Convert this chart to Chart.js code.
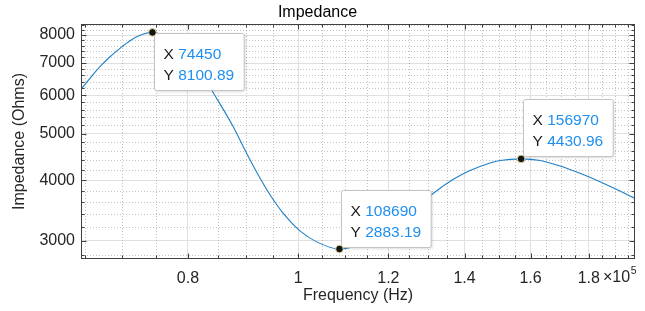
<!DOCTYPE html>
<html>
<head>
<meta charset="utf-8">
<script src="https://cdn.jsdelivr.net/npm/chart.js@4.4.1/dist/chart.umd.min.js"></script>
<style>
  html, body { margin: 0; padding: 0; background: #fff; }
</style>
</head>
<body>
<canvas id="impedanceChart" width="645" height="311"></canvas>
<script>
// values (Hz, Ohms)
const freq = [64430, 65610, 66950, 68320, 69720, 71150, 72600, 74450, 76370, 78390, 80320, 82300, 84100,
  87670, 89770, 91940, 94440, 97020, 100350, 103800, 108690, 112640, 116770, 121620, 126650, 131430,
  136860, 141560, 147410, 150420, 156970, 163110, 169820, 176840, 184140, 191750, 197650];
const impedance = [6175, 6508, 6878, 7214, 7509, 7785, 7989, 8100.89, 7961, 7664, 7237, 6643, 6106,
  5167, 4624, 4159, 3735, 3418, 3144, 2983, 2883.19, 2925, 3019, 3219, 3491, 3762,
  4021, 4192, 4347, 4399, 4430.96, 4398, 4285, 4138, 3976, 3803, 3670];

// data tips
const tipFreq = [74450, 108690, 156970];
const tipImp = [8100.89, 2883.19, 4430.96];
const tipSide = ['below', 'above', 'above'];

// axes
const xMin = 64430, xMax = 197650;
const yMin = 2749, yMax = 8433;
const xMajor = [80000, 100000, 120000, 140000, 160000, 180000];
const xMinor = [65000, 70000, 75000, 85000, 90000, 95000, 105000, 110000, 115000, 125000, 130000,
  135000, 145000, 150000, 155000, 165000, 170000, 175000, 185000, 190000, 195000];
const yMajor = [3000, 4000, 5000, 6000, 7000, 8000];
const yMinor = [2800, 3200, 3400, 3600, 3800, 4200, 4400, 4600, 4800, 5200, 5400, 5600, 5800,
  6200, 6400, 6600, 6800, 7200, 7400, 7600, 7800, 8200, 8400];

const FONT = '"Liberation Sans", Arial, Helvetica, sans-serif';
const axisColor = '#404040';

const matlabAxes = {
  id: 'matlabAxes',
  beforeDatasetsDraw(chart) {
    const { ctx, chartArea: a, scales: { x, y } } = chart;
    ctx.save();
    ctx.strokeStyle = 'rgba(60,60,60,0.3)';
    ctx.lineWidth = 1;
    ctx.setLineDash([1, 2]);
    ctx.beginPath();
    xMinor.forEach(v => {
      const px = Math.round(x.getPixelForValue(v)) + 0.5;
      ctx.moveTo(px, a.top); ctx.lineTo(px, a.bottom);
    });
    yMinor.forEach(v => {
      const py = Math.round(y.getPixelForValue(v)) + 0.5;
      if (py < a.top || py > a.bottom) return;
      ctx.moveTo(a.left, py); ctx.lineTo(a.right, py);
    });
    ctx.stroke();
    ctx.restore();
  },
  afterDatasetDraw(chart, args) {
    if (args.index !== 1) return;
    const { ctx, scales: { x, y } } = chart;
    ctx.save();
    ctx.font = '15.5px ' + FONT;
    ctx.textBaseline = 'alphabetic';
    tipFreq.forEach((f, i) => {
      const px = x.getPixelForValue(f);
      const py = y.getPixelForValue(tipImp[i]);
      const xs = String(f), ys = tipImp[i].toFixed(2);
      const w = Math.max(ctx.measureText('X ' + xs).width, ctx.measureText('Y ' + ys).width) + 19;
      const h = 57;
      const bx = Math.round(px + 2) + 0.5;
      const by = Math.round(tipSide[i] === 'below' ? py + 0.5 : py - 2.5 - h) + 0.5;
      ctx.save();
      ctx.shadowColor = 'rgba(0,0,0,0.18)';
      ctx.shadowBlur = 3;
      ctx.shadowOffsetX = 1;
      ctx.shadowOffsetY = 1;
      ctx.beginPath();
      ctx.roundRect(bx, by, w, h, 2);
      ctx.fillStyle = '#fff';
      ctx.fill();
      ctx.restore();
      ctx.strokeStyle = '#c4c4c4';
      ctx.lineWidth = 1;
      ctx.beginPath();
      ctx.roundRect(bx, by, w, h, 2);
      ctx.stroke();
      const tx = bx + 9;
      ctx.fillStyle = '#1a1a1a';
      ctx.fillText('X', tx, by + 25.5);
      ctx.fillText('Y', tx, by + 46.5);
      ctx.fillStyle = '#1e8ff0';
      ctx.fillText(xs, tx + ctx.measureText('X ').width, by + 25.5);
      ctx.fillText(ys, tx + ctx.measureText('Y ').width, by + 46.5);
    });
    ctx.restore();
  },
  afterDraw(chart) {
    const { ctx, chartArea: a, scales: { x, y } } = chart;
    const L = Math.round(a.left) + 0.5, R = Math.round(a.right) - 0.5;
    const T = Math.round(a.top) + 0.5, B = Math.round(a.bottom) - 0.5;
    ctx.save();
    ctx.strokeStyle = axisColor;
    ctx.lineWidth = 1;
    ctx.beginPath();
    const xt = xMajor.map(v => [v, 5]).concat(xMinor.map(v => [v, 3]));
    xt.forEach(([v, len]) => {
      const px = Math.round(x.getPixelForValue(v)) + 0.5;
      ctx.moveTo(px, B); ctx.lineTo(px, B - len);
      ctx.moveTo(px, T); ctx.lineTo(px, T + len);
    });
    const yt = yMajor.map(v => [v, 5]).concat(yMinor.map(v => [v, 3]));
    yt.forEach(([v, len]) => {
      const py = Math.round(y.getPixelForValue(v)) + 0.5;
      if (py < a.top || py > a.bottom) return;
      ctx.moveTo(L, py); ctx.lineTo(L + len, py);
      ctx.moveTo(R, py); ctx.lineTo(R - len, py);
    });
    ctx.stroke();
    ctx.strokeRect(L, T, R - L, B - T);

    // exponent of the x axis
    ctx.fillStyle = '#262626';
    ctx.textBaseline = 'alphabetic';
    ctx.font = '16px ' + FONT;
    const ex = a.right - 32;
    ctx.fillText('\u00d710', ex, a.bottom + 22.5);
    const w10 = ctx.measureText('\u00d710').width;
    ctx.font = '10.5px ' + FONT;
    ctx.fillText('5', ex + w10 + 0.5, a.bottom + 14.5);
    ctx.restore();
  }
};

const tickFont = { family: FONT, size: 16 };
const titleFont = { family: FONT, size: 16, weight: 'normal' };

new Chart(document.getElementById('impedanceChart'), {
  type: 'line',
  data: {
    datasets: [{
      label: 'Data tips',
      data: tipFreq.map((f, i) => ({ x: f, y: tipImp[i] })),
      showLine: false,
      pointRadius: 3.8,
      pointBackgroundColor: '#151515',
      pointBorderColor: 'rgba(235,225,160,0.9)',
      pointBorderWidth: 1,
      clip: false
    }, {
      label: 'Impedance',
      data: freq.map((f, i) => ({ x: f, y: impedance[i] })),
      borderColor: '#2080c8',
      borderWidth: 1.1,
      pointRadius: 0,
      fill: false,
      cubicInterpolationMode: 'monotone'
    }]
  },
  options: {
    responsive: false,
    animation: false,
    events: [],
    layout: { padding: { left: 0, right: 10, top: 0, bottom: 0 } },
    plugins: {
      legend: { display: false },
      tooltip: { enabled: false },
      title: {
        display: true,
        text: 'Impedance',
        color: '#000',
        font: titleFont,
        padding: { top: 3, bottom: 1.8 }
      }
    },
    scales: {
      x: {
        type: 'logarithmic',
        min: xMin,
        max: xMax,
        afterBuildTicks: s => { s.ticks = xMajor.map(v => ({ value: v })); },
        afterFit: s => { s.height = 52; },
        ticks: {
          autoSkip: false,
          maxRotation: 0,
          padding: 10,
          color: '#262626',
          font: tickFont,
          callback: v => String(+(v / 1e5).toFixed(1))
        },
        grid: { color: '#e0e0e0', lineWidth: 1, drawTicks: false },
        border: { display: false },
        title: {
          display: true,
          text: 'Frequency (Hz)',
          color: '#262626',
          font: titleFont,
          padding: { top: 0, bottom: 6 }
        }
      },
      y: {
        type: 'logarithmic',
        min: yMin,
        max: yMax,
        afterBuildTicks: s => { s.ticks = yMajor.map(v => ({ value: v })); },
        afterFit: s => { s.width = 81; },
        ticks: {
          autoSkip: false,
          padding: 6,
          color: '#262626',
          font: tickFont,
          callback: v => String(v)
        },
        grid: { color: '#e0e0e0', lineWidth: 1, drawTicks: false },
        border: { display: false },
        title: {
          display: true,
          text: 'Impedance (Ohms)',
          color: '#262626',
          font: titleFont,
          padding: { top: 10, bottom: 0 }
        }
      }
    }
  },
  plugins: [matlabAxes]
});
</script>
</body>
</html>
